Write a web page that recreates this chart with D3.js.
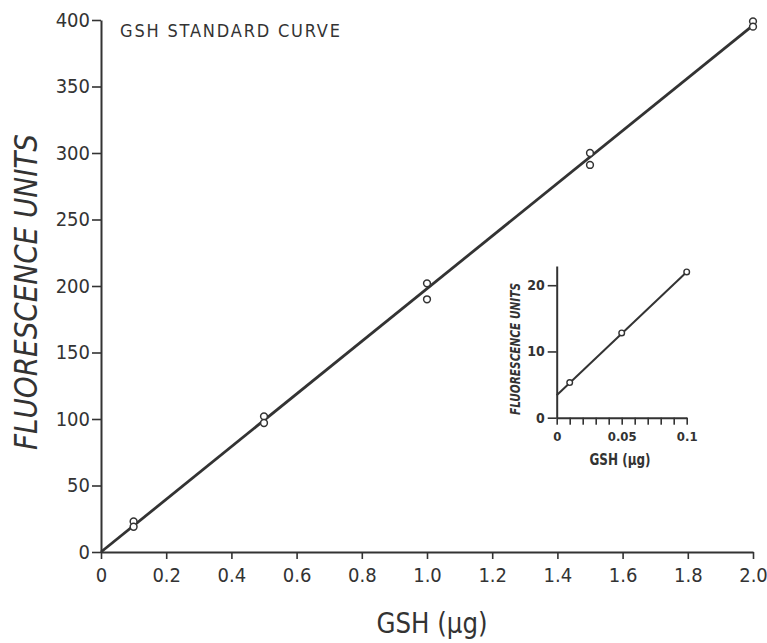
<!DOCTYPE html>
<html>
<head>
<meta charset="utf-8">
<script src="https://cdn.jsdelivr.net/npm/d3@7"></script>
<style>
    html, body { margin: 0; padding: 0; background: #ffffff; }
    svg text { font-family: "DejaVu Sans Condensed", "Liberation Sans Narrow", "DejaVu Sans", sans-serif; font-stretch: condensed; fill: #333333; }
</style>
</head>
<body>
<div id="chart"></div>
<script>

//--- Daten ----------------------------------------------------------------------------------------- //

var mainX = [0.1, 0.1, 0.5, 0.5, 1.0, 1.0, 1.5, 1.5, 2.0, 2.0];
var mainY = [23, 19, 102, 97, 202, 190, 300, 291, 399, 395];
var mainLineX = [0, 2.0];
var mainLineY = [0, 396];
var mainXTicks = [0, 0.2, 0.4, 0.6, 0.8, 1.0, 1.2, 1.4, 1.6, 1.8, 2.0];
var mainYTicks = [0, 50, 100, 150, 200, 250, 300, 350, 400];

var insetX = [0.01, 0.05, 0.1];
var insetY = [5.3, 12.8, 22];
var insetLineX = [0, 0.1];
var insetLineY = [3.4, 22];
var insetXTicks = [0, 0.01, 0.02, 0.03, 0.04, 0.05, 0.06, 0.07, 0.08, 0.09, 0.1];
var insetXLabels = [0, 0.05, 0.1];
var insetYTicks = [0, 10, 20];


var App = {
    Config: {
        Width: 767,
        Height: 643,
        Ink: '#333333'
    }
};


//--- Achse stylen ---------------------------------------------------------------------------------- //

function styleAxis(_g, _fontSize, _weight) {
    _g.selectAll('path.domain').attr('stroke', App.Config.Ink).attr('stroke-width', 2);
    _g.selectAll('.tick line').attr('stroke', App.Config.Ink).attr('stroke-width', 1.6);
    _g.selectAll('.tick text')
        .attr('font-size', _fontSize)
        .attr('font-weight', _weight || 'normal')
        .attr('fill', App.Config.Ink)
        .style('font-family', null);
    _g.attr('font-family', null);
}


//--- Hauptdiagramm --------------------------------------------------------------------------------- //

function renderMain(svg) {

    var x = d3.scaleLinear().domain([0, 2.0]).range([101, 753]);
    var y = d3.scaleLinear().domain([0, 400]).range([552, 20]);

    var xAxis = svg.append('g')
        .attr('transform', 'translate(0,' + y(0) + ')')
        .call(d3.axisBottom(x).tickValues(mainXTicks).tickSize(7).tickSizeOuter(0).tickPadding(9)
            .tickFormat(function (d) { return d === 0 ? '0' : d3.format('.1f')(d); }));
    styleAxis(xAxis, 20);

    var yAxis = svg.append('g')
        .attr('transform', 'translate(' + x(0) + ',0)')
        .call(d3.axisLeft(y).tickValues(mainYTicks).tickSize(9).tickSizeOuter(0).tickPadding(2));
    styleAxis(yAxis, 20);

    svg.append('line')
        .attr('x1', x(mainLineX[0])).attr('y1', y(mainLineY[0]))
        .attr('x2', x(mainLineX[1])).attr('y2', y(mainLineY[1]))
        .attr('stroke', App.Config.Ink)
        .attr('stroke-width', 2.8);

    svg.append('g').selectAll('circle')
        .data(mainX)
        .enter().append('circle')
        .attr('cx', function (d) { return x(d); })
        .attr('cy', function (d, i) { return y(mainY[i]); })
        .attr('r', 3.4)
        .attr('fill', '#ffffff')
        .attr('stroke', App.Config.Ink)
        .attr('stroke-width', 1.5);

    svg.append('text')
        .attr('x', 120)
        .attr('y', 37)
        .attr('font-size', 18)
        .attr('textLength', 220)
        .attr('lengthAdjust', 'spacing')
        .text('GSH STANDARD CURVE');

    svg.append('text')
        .attr('transform', 'translate(37,292) rotate(-90)')
        .attr('text-anchor', 'middle')
        .attr('font-size', 32)
        .attr('font-style', 'italic')
        .attr('textLength', 316)
        .attr('lengthAdjust', 'spacingAndGlyphs')
        .text('FLUORESCENCE UNITS');

    svg.append('text')
        .attr('x', 432)
        .attr('y', 633)
        .attr('text-anchor', 'middle')
        .attr('font-size', 28)
        .attr('textLength', 111)
        .attr('lengthAdjust', 'spacingAndGlyphs')
        .text('GSH (\u00b5g)');
}


//--- Einsatzdiagramm ------------------------------------------------------------------------------- //

function renderInset(svg) {

    var x = d3.scaleLinear().domain([0, 0.1]).range([556.7, 686.7]);
    var y = d3.scaleLinear().domain([0, 22.9]).range([417.7, 266]);

    var xAxis = svg.append('g')
        .attr('transform', 'translate(0,' + y(0) + ')')
        .call(d3.axisBottom(x).tickValues(insetXTicks).tickSize(7).tickSizeOuter(0).tickPadding(7)
            .tickFormat(function (d) { return insetXLabels.indexOf(d) >= 0 ? String(d) : ''; }));
    styleAxis(xAxis, 13, 'bold');

    var yAxis = svg.append('g')
        .attr('transform', 'translate(' + x(0) + ',0)')
        .call(d3.axisLeft(y).tickValues(insetYTicks).tickSize(9).tickSizeOuter(0).tickPadding(3));
    styleAxis(yAxis, 14, 'bold');

    svg.append('line')
        .attr('x1', x(insetLineX[0])).attr('y1', y(insetLineY[0]))
        .attr('x2', x(insetLineX[1])).attr('y2', y(insetLineY[1]))
        .attr('stroke', App.Config.Ink)
        .attr('stroke-width', 2);

    svg.append('g').selectAll('circle')
        .data(insetX)
        .enter().append('circle')
        .attr('cx', function (d) { return x(d); })
        .attr('cy', function (d, i) { return y(insetY[i]); })
        .attr('r', 2.8)
        .attr('fill', '#ffffff')
        .attr('stroke', App.Config.Ink)
        .attr('stroke-width', 1.4);

    svg.append('text')
        .attr('transform', 'translate(520,349) rotate(-90)')
        .attr('text-anchor', 'middle')
        .attr('font-size', 14)
        .attr('font-style', 'italic')
        .attr('font-weight', 'bold')
        .attr('textLength', 132)
        .attr('lengthAdjust', 'spacingAndGlyphs')
        .text('FLUORESCENCE UNITS');

    svg.append('text')
        .attr('x', 620)
        .attr('y', 465)
        .attr('text-anchor', 'middle')
        .attr('font-size', 16)
        .attr('font-weight', 'bold')
        .attr('textLength', 61)
        .attr('lengthAdjust', 'spacingAndGlyphs')
        .text('GSH (\u00b5g)');
}


//--- Start ----------------------------------------------------------------------------------------- //

var svg = d3.select('#chart').append('svg')
    .attr('width', App.Config.Width)
    .attr('height', App.Config.Height);

renderMain(svg);
renderInset(svg);

</script>
</body>
</html>
